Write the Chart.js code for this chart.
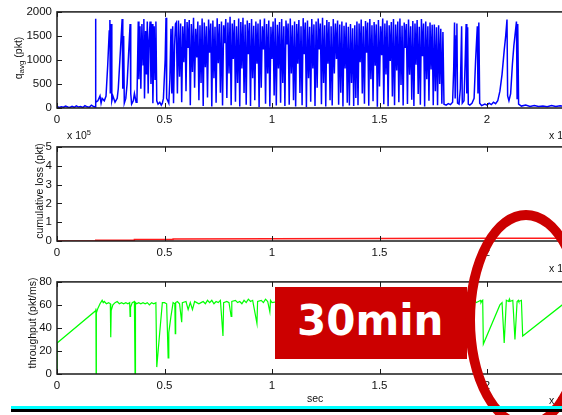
<!DOCTYPE html>
<html><head><meta charset="utf-8">
<script src="https://cdn.jsdelivr.net/npm/chart.js@4/dist/chart.umd.min.js"></script>
<style>
html,body{margin:0;padding:0;background:#fff;}
#wrap{position:relative;width:562px;height:415px;overflow:hidden;background:#fff;font-family:'Liberation Sans',Arial,sans-serif;color:#111;}
canvas{position:absolute;left:0;}
.t{position:absolute;white-space:nowrap;font-size:10.5px;line-height:1;}
.yl{transform:translate(-50%,-50%) rotate(-90deg);}
.t sub{font-size:8px;vertical-align:-2px;}
.t sup{font-size:7.5px;vertical-align:4px;}
#box{position:absolute;left:275px;top:287px;width:192px;height:72px;background:#cc0000;}
#box span{position:absolute;left:22px;top:13px;color:#fff;font:bold 42px 'DejaVu Sans',sans-serif;line-height:1;}
#ring{position:absolute;left:465px;top:210px;width:122px;height:220px;border:10px solid #cc0000;border-radius:50%;box-sizing:border-box;}
#cyan{position:absolute;left:11px;top:406px;width:560px;height:3px;background:#00ffff;}
#blk{position:absolute;left:11px;top:409px;width:560px;height:3px;background:#000;}
</style></head><body>
<div id="wrap">
<canvas id="c1" width="600" height="135" style="top:0;width:600px;height:135px"></canvas>
<canvas id="c2" width="600" height="135" style="top:135px;width:600px;height:135px"></canvas>
<canvas id="c3" width="600" height="135" style="top:270px;width:600px;height:135px"></canvas>
<div class="t yl" style="left:19px;top:58px">q<sub>avg</sub> (pkt)</div>
<div class="t yl" style="left:39px;top:191px">cumulative loss (pkt)</div>
<div class="t yl" style="left:32px;top:323px">throughput (pkt/ms)</div>
<div class="t" style="left:549px;top:129px">x 10<sup>5</sup></div>
<div class="t" style="left:67px;top:129px">x 10<sup>5</sup></div>
<div class="t" style="left:549px;top:262px">x 10<sup>5</sup></div>
<div class="t" style="left:549px;top:394px">x 10<sup>5</sup></div>
<div class="t" style="left:307px;top:393px">sec</div>
<div id="box"><span>30min</span></div>
<div id="ring"></div>
<div id="cyan"></div>
<div id="blk"></div>
</div>
<script>
// ---- data (time in units of 1e5 sec) ----
const xTicks = [0, 0.5, 1, 1.5, 2];
const q_time = [0,0.01,0.02,0.03,0.04,0.05,0.06,0.07,0.08,0.09,0.10,0.11,0.12,0.13,0.14,0.15,0.16,0.17,0.178,
0.179,0.181,0.19,0.2,0.205,0.21,0.22,0.228,0.236,0.243,0.246,0.248,0.252,0.255,0.26,0.27,0.28,0.285,0.295,0.303,0.306,0.31,0.313,0.32,0.326,0.335,0.34,0.343,0.347,0.355,0.36,0.368,0.372,0.378,0.381,0.386,0.39,0.395,0.4,0.404,0.407,0.412,0.416,0.42,0.424,0.428,0.433,0.437,0.442,0.446,0.452,0.456,0.46,0.464,0.47,0.478,0.485,0.49,0.495,0.503,0.507,0.51,0.515,0.52,0.525,0.53,0.534,0.538,0.542,0.547,0.551,
0.555,0.560,0.565,0.570,0.575,0.580,0.585,0.590,0.595,0.600,
0.605,0.610,0.615,0.620,0.625,0.630,0.635,0.640,0.645,0.650,
0.655,0.660,0.665,0.670,0.675,0.680,0.685,0.690,0.695,0.700,
0.705,0.710,0.715,0.720,0.725,0.730,0.735,0.740,0.745,0.750,
0.755,0.760,0.765,0.770,0.775,0.780,0.785,0.790,0.795,0.800,
0.805,0.810,0.815,0.820,0.825,0.830,0.835,0.840,0.845,0.850,
0.855,0.860,0.865,0.870,0.875,0.880,0.885,0.890,0.895,0.900,
0.905,0.910,0.915,0.920,0.925,0.930,0.935,0.940,0.945,0.950,
0.955,0.960,0.965,0.970,0.975,0.980,0.985,0.990,0.995,1.000,
1.005,1.010,1.015,1.020,1.025,1.030,1.035,1.040,1.045,1.050,
1.055,1.060,1.065,1.070,1.075,1.080,1.085,1.090,1.095,1.100,
1.105,1.110,1.115,1.120,1.125,1.130,1.135,1.140,1.145,1.150,
1.155,1.160,1.165,1.170,1.175,1.180,1.185,1.190,1.195,1.200,
1.205,1.210,1.215,1.220,1.225,1.230,1.235,1.240,1.245,1.250,
1.255,1.260,1.265,1.270,1.275,1.280,1.285,1.290,1.295,1.300,
1.305,1.310,1.315,1.320,1.325,1.330,1.335,1.340,1.345,1.350,
1.355,1.360,1.365,1.370,1.375,1.380,1.385,1.390,1.395,1.400,
1.405,1.410,1.415,1.420,1.425,1.430,1.435,1.440,1.445,1.450,
1.455,1.460,1.465,1.470,1.475,1.480,1.485,1.490,1.495,1.500,
1.505,1.510,1.515,1.520,1.525,1.530,1.535,1.540,1.545,1.550,
1.555,1.560,1.565,1.570,1.575,1.580,1.585,1.590,1.595,1.600,
1.605,1.610,1.615,1.620,1.625,1.630,1.635,1.640,1.645,1.650,
1.655,1.660,1.665,1.670,1.675,1.680,1.685,1.690,1.695,1.700,
1.705,1.710,1.715,1.720,1.725,1.730,1.735,1.740,1.745,1.750,
1.755,1.760,1.765,1.770,1.775,1.780,1.785,1.790,1.795,1.800,
1.81,1.82,1.83,1.84,1.845,1.849,1.852,1.857,1.860,1.863,1.870,1.876,1.882,1.885,1.893,1.898,1.903,1.906,1.910,1.913,1.92,1.93,1.94,1.947,1.955,1.958,1.962,1.966,1.975,1.99,2.0,2.01,2.02,2.03,2.04,2.05,2.06,2.07,2.08,2.087,2.093,2.096,2.102,2.11,2.118,2.125,2.13,2.137,2.14,2.143,2.147,2.16,2.18,2.2,2.22,2.24,2.26,2.28,2.3,2.32,2.34,2.36,2.38,2.4];
const q_avg = [30,10,25,15,40,20,10,35,15,45,20,30,10,50,25,15,60,30,20,
1860,120,150,250,100,200,150,250,900,1600,1830,300,1750,150,250,120,200,400,1200,1850,400,1500,100,200,500,1300,1750,300,80,150,300,120,200,1800,600,1700,400,1750,900,1850,200,1600,700,1800,300,1400,1800,500,1750,100,1700,600,1800,150,80,120,60,100,200,1000,1880,200,150,100,600,1650,300,1700,100,1300,1750,
1780,300,1820,650,1760,120,1700,950,1850,350,
1790,1250,1830,60,1750,750,1880,420,1650,1050,
1800,160,1720,520,1860,40,1780,850,1700,220,
1840,1150,1760,30,1820,620,1690,110,1870,930,
1750,320,1800,50,1720,1350,1850,210,1780,720,
1900,60,1760,1020,1830,130,1700,520,1860,30,
1790,820,1880,310,1740,70,1820,1120,1770,40,
1850,620,1710,160,1800,920,1760,20,1840,420,
1700,1220,1860,90,1750,720,1820,30,1690,1020,
1800,260,1870,50,1730,820,1790,110,1850,520,
1700,40,1820,1320,1760,70,1860,720,1720,160,
1800,30,1750,920,1830,310,1700,60,1870,1120,
1780,20,1820,620,1690,130,1850,820,1740,40,
1800,420,1860,1220,1760,80,1880,520,1720,30,
1830,920,1790,160,1700,50,1850,720,1760,1020,
1820,70,1740,320,1800,30,1710,820,1780,110,
1690,50,1750,520,1660,40,1720,210,1800,60,
1760,950,1840,300,1700,90,1810,1150,1780,45,
1850,600,1720,140,1790,880,1740,25,1830,450,
1700,1100,1860,80,1760,700,1820,35,1720,980,
1790,240,1850,60,1740,780,1800,120,1860,480,
1710,50,1780,1250,1750,85,1840,690,1700,170,
1810,40,1760,900,1830,290,1690,70,1850,1080,
1760,30,1800,600,1700,150,1780,800,1730,55,
1740,350,1680,60,1720,500,1650,90,1580,80,
60,90,70,120,800,1780,200,1500,1760,100,80,400,1700,100,150,900,1750,300,1680,80,60,100,200,1000,1700,300,1780,100,50,80,60,100,70,120,90,150,350,700,1200,1500,1840,250,150,300,900,1300,1500,1800,200,1750,80,40,60,30,50,30,40,25,50,30,45,30,40,30];

const loss_time = [0,0.18,0.18,0.36,0.36,0.54,0.54,1.0,1.5,2.0,2.4];
const loss_pkt  = [0,0,4000,4000,8000,8000,11000,12500,13500,14000,14500];

const thr_time = [0,0.0005,0.18,0.181,0.182,0.183,0.19,0.2,0.21,0.215,0.22,0.23,0.24,0.248,0.25,0.252,0.26,0.27,0.28,0.29,0.3,0.31,0.32,0.33,0.338,0.34,0.342,0.35,0.36,0.363,0.365,0.37,0.38,0.39,0.4,0.41,0.42,0.43,0.44,0.45,0.46,0.464,0.475,0.49,0.5,0.51,0.517,0.52,0.53,0.54,0.548,0.55,0.552,0.56,0.57,0.58,0.583,0.6,0.61,0.62,0.63,0.64,0.65,0.66,0.67,0.68,0.69,0.7,0.71,0.72,0.73,0.74,0.75,0.76,0.772,0.775,0.79,0.8,0.81,0.813,0.83,0.84,0.85,0.86,0.87,0.88,0.89,0.9,0.91,0.93,0.933,0.95,0.96,0.97,0.98,0.99,0.993,1.0,1.03,1.06,1.09,1.12,1.15,1.18,1.21,1.24,1.27,1.3,1.33,1.36,1.39,1.42,1.45,1.48,1.51,1.54,1.57,1.6,1.63,1.66,1.69,1.72,1.75,1.78,1.81,1.84,1.87,1.9,1.93,1.94,1.95,1.96,1.97,1.972,1.975,1.98,1.983,2.06,2.07,2.08,2.09,2.1,2.104,2.106,2.12,2.13,2.14,2.146,2.148,2.16,2.166,2.35,2.4];
const thr_val = [0,27,55,57,0,53,57,61,64,62,63,61,62,61,32,55,60,62,63,61,62,61,62,61,62,50,58,62,63,0,62,61,62,61,62,61,62,60,62,61,62,6,30,62,62,61,14,36,50,62,61,35,62,63,61,45,62,63,56,62,56,63,62,61,62,63,61,64,62,64,61,63,62,64,33,62,63,62,50,63,64,62,63,61,64,62,65,63,64,44,63,64,62,65,63,54,64,62,63,64,62,63,64,62,63,64,62,63,64,62,63,64,62,63,64,62,63,64,62,63,64,62,63,64,62,63,64,62,63,64,62,63,64,62,63,64,26,60,62,27,64,63,65,63,64,30,63,64,63,64,33,60,62,23,52,55];

// ---- helpers ----
const FONT = {family:"'Liberation Sans', Arial, sans-serif", size:11.5};
const frame = {
  id:'frame',
  afterDraw(chart){
    const {ctx, chartArea:{left,right,top,bottom}, scales:{x,y}} = chart;
    ctx.save();
    ctx.strokeStyle='#1a1a1a'; ctx.lineWidth=1.5;
    ctx.strokeRect(left,top,right-left,bottom-top);
    ctx.lineWidth=1;
    x.ticks.forEach(t=>{const p=Math.round(x.getPixelForValue(t.value))+0.5;
      ctx.beginPath();ctx.moveTo(p,bottom);ctx.lineTo(p,bottom-5);ctx.moveTo(p,top);ctx.lineTo(p,top+5);ctx.stroke();});
    y.ticks.forEach(t=>{const p=Math.round(y.getPixelForValue(t.value))+0.5;
      ctx.beginPath();ctx.moveTo(left,p);ctx.lineTo(left+5,p);ctx.moveTo(right,p);ctx.lineTo(right-5,p);ctx.stroke();});
    ctx.restore();
  }
};
function pts(tx, ty){ return tx.map((t,i)=>({x:t, y:ty[i]})); }
function make(id, data, color, width, ymax, ystep, padTop, xH, fmt){
  return new Chart(document.getElementById(id), {
    type:'line',
    data:{datasets:[{data, borderColor:color, borderWidth:width, pointRadius:0, tension:0, fill:false}]},
    options:{
      responsive:false, animation:false, events:[],
      layout:{padding:{top:padTop,left:0,right:27,bottom:0}},
      plugins:{legend:{display:false}, tooltip:{enabled:false}},
      scales:{
        x:{type:'linear', min:0, max:2.4,
           afterBuildTicks: s=>{ s.ticks = xTicks.map(v=>({value:v})); },
           afterFit: s=>{ s.height = xH; },
           grid:{display:false, drawTicks:false, tickLength:0}, border:{display:false},
           ticks:{padding:5, color:'#111', font:FONT, maxRotation:0, autoSkip:false, callback:v=>String(+v)}},
        y:{type:'linear', min:0, max:ymax,
           ticks:{stepSize:ystep, padding:5, color:'#111', font:FONT, callback: fmt || (v=>String(v))},
           afterFit: s=>{ s.width = 57; },
           grid:{display:false, drawTicks:false, tickLength:0}, border:{display:false}}
      }
    },
    plugins:[frame]
  });
}
make('c1', pts(q_time, q_avg), '#0000ff', 1.5, 2000, 500, 10, 27);
make('c2', pts(loss_time, loss_pkt), '#ff1a1a', 1.5, 500000, 100000, 7, 29, v=>String(v/100000));
make('c3', pts(thr_time, thr_val), '#00ff00', 1.2, 80, 20, 4, 31);
</script>
</body></html>
